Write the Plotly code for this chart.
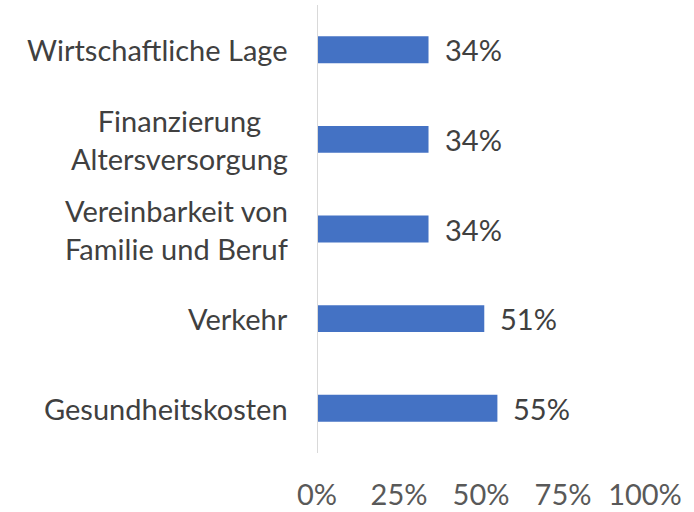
import plotly.graph_objects as go

categories = [
    "Gesundheitskosten",
    "Verkehr",
    "Vereinbarkeit von<br>Familie und Beruf",
    "Finanzierung<br>Altersversorgung",
    "Wirtschaftliche Lage",
]
values = [55, 51, 34, 34, 34]
x_ticks = [0, 25, 50, 75, 100]

BAR_COLOR = "#4472C4"
LABEL_COLOR = "#404040"
TICK_COLOR = "#595959"
FONT = "Lato, 'Open Sans', sans-serif"
FSIZE = 29

fig = go.Figure(
    go.Bar(
        x=values, y=categories, orientation="h",
        marker=dict(color=BAR_COLOR, line=dict(width=0)),
        width=0.3, hoverinfo="skip",
    )
)

# category labels (centered multi-line, right-aligned block like the original)
for cat in categories:
    fig.add_annotation(
        x=0, y=cat, xref="paper", yref="y", text=cat, showarrow=False,
        xanchor="right", yanchor="middle", align="center", xshift=-27,
        font=dict(family=FONT, size=FSIZE, color=LABEL_COLOR),
    )

# value labels
for cat, v in zip(categories, values):
    fig.add_annotation(
        x=v, y=cat, xref="x", yref="y", text=f"{v}%", showarrow=False,
        xanchor="left", yanchor="middle", xshift=14,
        font=dict(family=FONT, size=FSIZE, color=LABEL_COLOR),
    )

fig.update_xaxes(
    range=[0, 100], tickvals=x_ticks, ticktext=[f"{t}%" for t in x_ticks],
    showgrid=False, zeroline=False, showline=False, automargin=False,
    ticks="", ticklabelstandoff=22,
    tickfont=dict(family=FONT, size=FSIZE, color=TICK_COLOR),
)
fig.update_yaxes(
    showticklabels=False, showgrid=False, zeroline=False, automargin=False,
    showline=False, ticks="",
)
fig.add_shape(
    type="line", xref="x", yref="paper", x0=0, x1=0, y0=0, y1=1,
    line=dict(color="#D9D9D9", width=2),
)

fig.update_layout(
    width=694, height=512,
    margin=dict(l=317, r=49, t=5, b=59),
    paper_bgcolor="white", plot_bgcolor="white",
    showlegend=False, bargap=0.7,
)

# browser default body margin would shift the figure by 8px
fig.write_html(
    "out.html",
    config={"displayModeBar": False},
    post_script="document.body.style.margin='0';",
)
